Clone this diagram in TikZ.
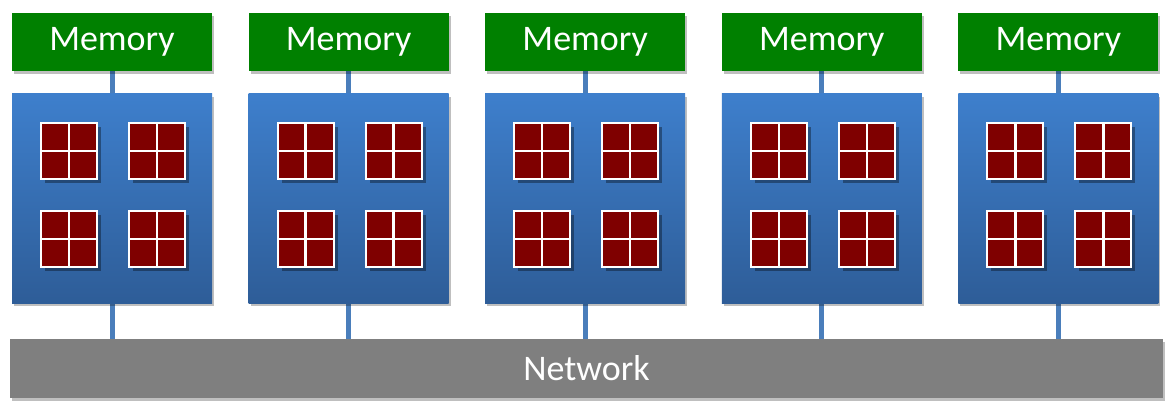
\documentclass[tikz,border=0pt]{standalone}
\usepackage{fontspec}
\setmainfont{Carlito}
\usetikzlibrary{shadows,calc,backgrounds}
\definecolor{memgreen}{HTML}{008000}
\definecolor{cpublueT}{HTML}{3E7FCC}
\definecolor{cpublueB}{HTML}{2E5D98}
\definecolor{chipred}{HTML}{7F0000}
\definecolor{netgray}{HTML}{7F7F7F}
\definecolor{linkblue}{HTML}{4A7EBB}
\tikzset{
  membox/.style={rectangle, fill=memgreen, minimum width=200pt, minimum height=58pt, inner sep=0pt,
    text=white, font=\fontsize{36}{40}\selectfont,
    drop shadow={shadow xshift=2pt, shadow yshift=-3pt, opacity=0.25, fill=black}},
  cpubox/.style={rectangle, top color=cpublueT, bottom color=cpublueB, minimum width=200pt, minimum height=209pt, inner sep=0pt,
    drop shadow={shadow xshift=2pt, shadow yshift=-3pt, opacity=0.25, fill=black}},
  chipbox/.style={rectangle, fill=chipred, draw=white, line width=2pt, minimum width=56pt, minimum height=56pt, inner sep=0pt,
    drop shadow={shadow xshift=4pt, shadow yshift=-4pt, opacity=0.35, fill=black},
    path picture={\draw[white, line width=2.5pt]
      (path picture bounding box.north) -- (path picture bounding box.south)
      (path picture bounding box.west) -- (path picture bounding box.east);}},
  netbox/.style={rectangle, fill=netgray, minimum width=1153pt, minimum height=59pt, inner sep=0pt,
    text=white, font=\fontsize{36}{40}\selectfont,
    drop shadow={shadow xshift=2pt, shadow yshift=-3pt, opacity=0.25, fill=black}},
  link/.style={draw=linkblue, line width=5pt}
}
\begin{document}
\begin{tikzpicture}[x=1pt, y=-1pt]
\useasboundingbox (0,0) rectangle (1172,417);
\node[netbox] (net) at (586.5,368.5) {Network};
\foreach \i in {0,...,4} {
  \pgfmathsetmacro{\cx}{112+236.6*\i}
  \node[membox] (mem\i) at (\cx,42) {Memory};
  \node[cpubox] (cpu\i) at (\cx,198.5) {};
  \node[chipbox] (chipA\i) at ($(cpu\i.center)+(-43,-47.5)$) {};
  \node[chipbox] (chipB\i) at ($(cpu\i.center)+(45,-47.5)$) {};
  \node[chipbox] (chipC\i) at ($(cpu\i.center)+(-43,40.5)$) {};
  \node[chipbox] (chipD\i) at ($(cpu\i.center)+(45,40.5)$) {};
  \begin{scope}[on background layer]
    \draw[link] (mem\i.south) -- (cpu\i.north);
    \draw[link] (cpu\i.south) -- (cpu\i.south |- net.north);
  \end{scope}
}
\end{tikzpicture}
\end{document}
